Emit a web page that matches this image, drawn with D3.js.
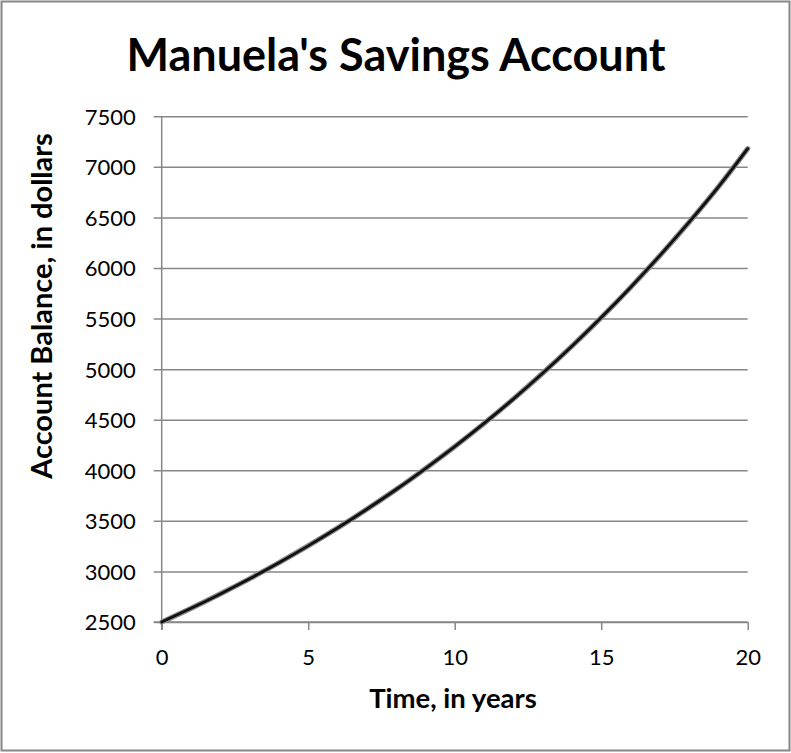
<!DOCTYPE html>
<html>
<head>
<meta charset="utf-8">
<script src="https://cdn.jsdelivr.net/npm/d3@7"></script>
<style>
  html, body { margin: 0; padding: 0; background: #fff; }
  svg { display: block; }
  text { font-family: Lato, "Open Sans", sans-serif; fill: #000; }
</style>
</head>
<body>
<svg id="chart" width="791" height="753"></svg>
<script>
// ---- data ----
const chartTitle = "Manuela's Savings Account";
const xTitle = "Time, in years";
const yTitle = "Account Balance, in dollars";
const years = [0,1,2,3,4,5,6,7,8,9,10,11,12,13,14,15,16,17,18,19,20];
const balances = [2500,2635,2778,2928,3086,3253,3429,3615,3810,4017,4234,4463,4704,4959,5227,5510,5808,6122,6453,6802,7180];
const xTicks = [0,5,10,15,20];
const yTicks = [2500,3000,3500,4000,4500,5000,5500,6000,6500,7000,7500];

const svg = d3.select("#chart");
const W = 791, H = 753;
const pLeft = 161.7, pRight = 747.7, pTop = 116.3, pBottom = 622;

// frame
svg.append("rect")
  .attr("x", 1.5).attr("y", 1.5).attr("width", W - 3).attr("height", H - 4)
  .attr("fill", "#fff").attr("stroke", "#878787").attr("stroke-width", 2);

const x = d3.scaleLinear().domain([0, 20]).range([pLeft, pRight]);
const y = d3.scaleLinear().domain([2500, 7500]).range([pBottom, pTop]);

const gridColor = "#878787";

// y axis with gridlines
const gy = svg.append("g").attr("transform", `translate(${pLeft},0)`)
  .call(d3.axisLeft(y).tickValues(yTicks).tickSize(-(pRight - pLeft)).tickFormat(d3.format("d")));
gy.select(".domain").remove();
gy.selectAll(".tick line").attr("x1", -8).attr("stroke", gridColor).attr("stroke-width", 1.5);
gy.selectAll(".tick text").attr("x", -26).attr("dy", "0.36em")
  .attr("font-size", 22).attr("font-family", "Lato, sans-serif");

// x axis
const gx = svg.append("g").attr("transform", `translate(0,${pBottom})`)
  .call(d3.axisBottom(x).tickValues(xTicks).tickSize(8).tickFormat(d3.format("d")));
gx.select(".domain").attr("d", `M${pLeft - 8},0H${pRight}`).attr("stroke", gridColor).attr("stroke-width", 1.5);
gx.selectAll(".tick line").attr("stroke", gridColor).attr("stroke-width", 1.5);
gx.selectAll(".tick text").attr("y", 43).attr("dy", 0)
  .attr("font-size", 22).attr("font-family", "Lato, sans-serif");

// y axis line
svg.append("line").attr("x1", pLeft).attr("x2", pLeft).attr("y1", pTop).attr("y2", pBottom + 8)
  .attr("stroke", gridColor).attr("stroke-width", 1.5);

// curve
const line = d3.line().x((d, i) => x(years[i])).y(d => y(d)).curve(d3.curveCatmullRom);
svg.append("path").datum(balances).attr("d", line)
  .attr("fill", "none").attr("stroke", "#8a8a8a").attr("stroke-width", 5.2).attr("stroke-linecap", "round");
svg.append("path").datum(balances).attr("d", line)
  .attr("fill", "none").attr("stroke", "#111").attr("stroke-width", 2.8).attr("stroke-linecap", "round");

// titles
svg.append("text").attr("x", 396).attr("y", 71).attr("text-anchor", "middle")
  .attr("font-size", 45).attr("font-weight", "bold").text(chartTitle);
svg.append("text").attr("x", 453).attr("y", 708).attr("text-anchor", "middle")
  .attr("font-size", 27.5).attr("font-weight", "bold").text(xTitle);
svg.append("text").attr("transform", `translate(52,306) rotate(-90)`).attr("text-anchor", "middle")
  .attr("font-size", 29).attr("font-weight", "bold").text(yTitle);
</script>
</body>
</html>
